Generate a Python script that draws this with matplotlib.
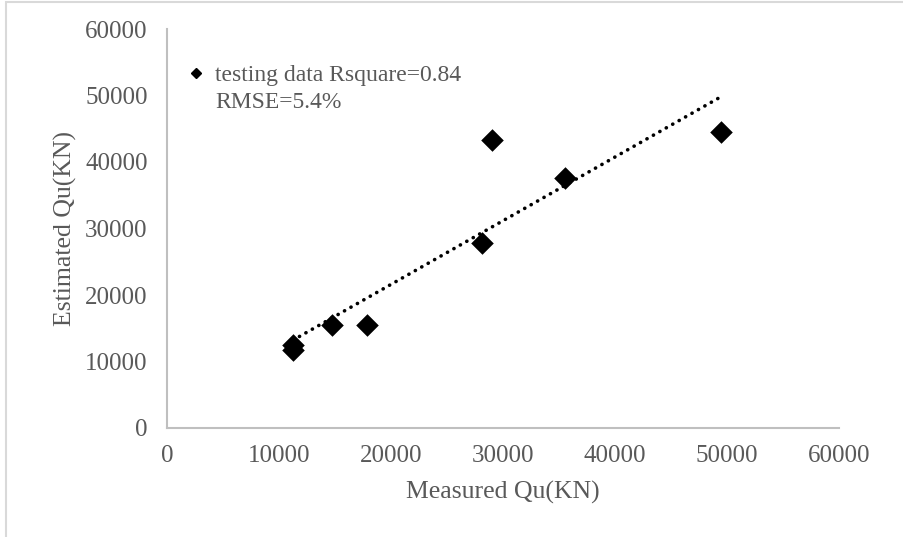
import matplotlib.pyplot as plt
import numpy as np
from matplotlib.lines import Line2D
from matplotlib.patches import Rectangle

# measured vs estimated pile capacity, testing set
measured = [11250, 11250, 14730, 17860, 28130, 29020, 35540, 49460]
estimated = [12480, 11730, 15490, 15490, 27820, 43310, 37590, 44510]
ticks = [0, 10000, 20000, 30000, 40000, 50000, 60000]

plt.rcParams['font.family'] = ['Liberation Serif', 'DejaVu Serif']
grey = '#595959'

fig = plt.figure(figsize=(9.04, 5.37), dpi=100)
ax = fig.add_axes([167 / 904, 1 - 428 / 537, 672 / 904, 399 / 537])

# chart area frame (left and top edges show)
fig.patches.append(Rectangle((6 / 904, -0.1), 1.1, 1 - 2 / 537 + 0.1,
                             transform=fig.transFigure, fill=False,
                             edgecolor='#D9D9D9', lw=1.5))

ax.scatter(measured, estimated, marker='D', s=11.5 ** 2, color='black',
           zorder=3, linewidths=0)

# linear trendline
slope, icpt = np.polyfit(measured, estimated, 1)
xs = np.array([min(measured), max(measured)])
ax.plot(xs, slope * xs + icpt, color='black', lw=2.6,
        linestyle=(0, (0.05, 2.0)), dash_capstyle='round', zorder=2)

ax.set_xlim(0, 60000)
ax.set_ylim(0, 60000)
ax.set_xticks(ticks)
ax.set_yticks(ticks)
ax.tick_params(length=0, labelsize=18, labelcolor=grey)
ax.tick_params(axis='y', pad=14)
ax.tick_params(axis='x', pad=12)
for s in ['top', 'right']:
    ax.spines[s].set_visible(False)
for s in ['left', 'bottom']:
    ax.spines[s].set_color('#BFBFBF')
    ax.spines[s].set_linewidth(1.5)

ax.set_xlabel('Measured Qu(KN)', fontsize=18.5, color=grey, labelpad=10)
ax.set_ylabel('Estimated Qu(KN)', fontsize=18.5, color=grey, labelpad=6)

handle = Line2D([], [], marker='D', color='black', ls='none', markersize=5)
leg = ax.legend([handle], ['testing data Rsquare=0.84'], loc='upper left',
                bbox_to_anchor=(0.02, 0.935), frameon=False, fontsize=17,
                handlelength=0.5, handletextpad=0.55, labelcolor=grey,
                borderaxespad=0)
ax.text(0.072, 0.815, 'RMSE=5.4%', transform=ax.transAxes, fontsize=17,
        color=grey, va='center', ha='left')

fig.savefig('out.png', dpi=100)
